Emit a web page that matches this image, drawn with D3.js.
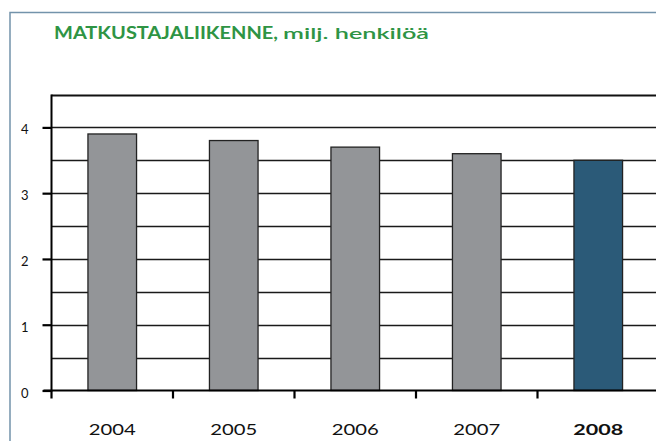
<!DOCTYPE html>
<html><head><meta charset="utf-8">
<script src="https://cdn.jsdelivr.net/npm/d3@7"></script>
<style>html,body{margin:0;padding:0;background:#fff;overflow:hidden}</style>
</head><body>
<svg id="c" width="656" height="441"></svg>
<script>
const years = ["2004","2005","2006","2007","2008"];
const values = [3.9, 3.8, 3.7, 3.6, 3.5];
const highlightYear = "2008";
const yTicks = [0,1,2,3,4];
const gridValues = [0.5,1,1.5,2,2.5,3,3.5,4,4.5];
const titleBold = "MATKUSTAJALIIKENNE,";
const titleRest = "milj. henkilöä";

const svg = d3.select("#c");
const W = 656, H = 441;
svg.append("rect").attr("width",W).attr("height",H).attr("fill","#fff");
// outer frame
svg.append("rect").attr("x",10).attr("y",12.5).attr("width",W+20).attr("height",H+20)
  .attr("fill","none").attr("stroke","#7393ab").attr("stroke-width",1.5);

const fontF = "Lato, 'Open Sans', sans-serif";
svg.append("text").attr("x",54).attr("y",38.5)
  .attr("fill","#2e9444").attr("font-family",fontF).attr("font-size",16.5).attr("font-weight","bold")
  .attr("textLength",224).attr("lengthAdjust","spacingAndGlyphs").text(titleBold);
svg.append("text").attr("x",283).attr("y",38.5)
  .attr("fill","#2e9444").attr("font-family",fontF).attr("font-size",16).attr("font-weight",600)
  .attr("textLength",146).attr("lengthAdjust","spacingAndGlyphs").text(titleRest);

const x0 = 51.5, x1 = 659, y0 = 390.5, yTop = 94.5;
const x = d3.scaleBand().domain(years).range([x0,x1]).paddingInner(0).paddingOuter(0);
const y = d3.scaleLinear().domain([0,4.5]).range([y0,yTop]);

// gridlines
svg.append("g").selectAll("line").data(gridValues).join("line")
  .attr("x1",x0).attr("x2",W).attr("y1",d=>Math.round(y(d))+0.5).attr("y2",d=>Math.round(y(d))+0.5)
  .attr("stroke",d=>d===4.5?"#111":"#1a1a1a").attr("stroke-width",d=>d===4.5?2:1.3);

// bars
svg.append("g").selectAll("rect").data(years).join("rect")
  .attr("x",d=>x(d)+x.bandwidth()*0.3).attr("width",x.bandwidth()*0.4)
  .attr("y",(d,i)=>y(values[i])).attr("height",(d,i)=>y0-y(values[i]))
  .attr("fill",d=>d===highlightYear?"#2b5a78":"#939598")
  .attr("stroke","#222").attr("stroke-width",1.3);

// y axis
const yAxis = d3.axisLeft(y).tickValues(yTicks).tickSize(9).tickPadding(14).tickFormat(d3.format("d"));
const gy = svg.append("g").attr("transform",`translate(${x0},0)`).call(yAxis);
gy.select(".domain").attr("d",`M0,${yTop}V${y0+1}`).attr("stroke","#000").attr("stroke-width",2);
gy.selectAll(".tick line").attr("stroke","#000").attr("stroke-width",2.2);
gy.selectAll(".tick text").attr("font-family",fontF).attr("font-size",13).attr("fill","#111").attr("dy","0.5em");

// x axis
const gx = svg.append("g").attr("transform",`translate(0,${y0})`);
gx.append("line").attr("x1",x0-8).attr("x2",W).attr("y1",0).attr("y2",0).attr("stroke","#000").attr("stroke-width",2);
gx.selectAll(".xt").data(years).join("line").attr("class","xt")
  .attr("x1",d=>x(d)).attr("x2",d=>x(d)).attr("y1",0).attr("y2",8)
  .attr("stroke","#000").attr("stroke-width",2.2);
gx.selectAll(".xl").data(years).join("text").attr("class","xl")
  .attr("x",d=>x(d)+x.bandwidth()/2).attr("y",44).attr("text-anchor","middle")
  .attr("font-family",fontF).attr("font-size",15.5)
  .attr("font-weight",d=>d===highlightYear?"bold":"normal")
  .attr("fill","#111")
  .attr("textLength",d=>d===highlightYear?50:47).attr("lengthAdjust","spacingAndGlyphs")
  .text(d=>d);
</script>
</body></html>
